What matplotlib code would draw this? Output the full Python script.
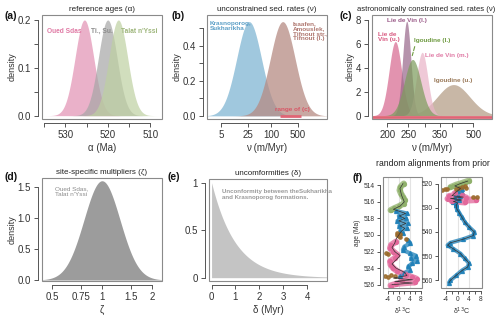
import numpy as np
import matplotlib
matplotlib.use("Agg")
import matplotlib.pyplot as plt
from matplotlib.patches import Rectangle
from matplotlib.ticker import NullLocator

plt.rcParams['font.family'] = ['Liberation Sans', 'DejaVu Sans']

# ---------------- data ----------------
# (a) reference ages: mean, sd, peak density
a_names = ["Oued Sdas", "Ti., Su.", "Talat n'Yssi"]
a_mean = [525.5, 520.0, 517.5]
a_sd = [2.2, 2.2, 2.2]
a_peak = [0.2, 0.2, 0.2]
a_colors = ['#E290B2', '#A6A6A6', '#BED0A1']
a_textcol = ['#E07AA5', '#8C8C8C', '#9DB57A']

# (b) unconstrained sed. rates (lognormal in ln-units)
b_names = ["Krasnoporog,\nSukharikha", "Isaafen,\nAmouslek,\nTifnout str.,\nTifnout (l.)"]
b_median = [27.0, 200.0]
b_sdln = [0.74, 0.74]
b_colors = ['#80B6D3', '#B68B83']
b_textcol = ['#5A9EC6', '#B07870']
c_range = [170, 610]

# (c) astronomically constrained rates: median, sd (decades), peak
c_names = ["Igoudine (u.)", "Lie de\nVin (u.)", "Lie de Vin (l.)", "Lie de Vin (m.)", "Igoudine (l.)"]
c_median = [405, 218, 246, 290, 262]
c_sd = [0.075, 0.029, 0.019, 0.026, 0.038]
c_peak = [2.6, 6.2, 7.9, 5.3, 4.7]
c_colors = ['#B39B84', '#D86A90', '#9A6A8C', '#E9B5C8', '#7E9D5E']

# (d) site-specific multiplier (lognormal, ln-units)
d_median = 1.0
d_sdln = 0.25

# (e) unconformity duration (exponential)
e_rate = 1.0

# (f) random alignments: (d13C, age)
gL_age = [513.8, 514.2, 514.6, 515.0, 515.4, 515.8, 516.2, 516.5, 516.8, 517.0]
gL_d = [1.8, 0.6, 0.3, 0.8, 1.5, 2.2, 1.8, 0.2, -1.8, -3.0]
bL1_age = [517.1, 517.4, 517.7, 518.0, 518.3, 518.6, 518.9, 519.2, 519.5, 519.8]
bL1_d = [-1.0, 3.0, 0.0, 2.6, -0.5, 3.2, 0.2, 3.0, 0.5, 1.5]
brL_age = [519.8, 519.9, 520.0, 520.1, 520.2, 520.5, 522.3, 522.2, 524.8, 524.9, 525.0, 525.1]
brL_d = [-0.5, 0.3, -0.8, 0.0, 0.6, 2.8, -3.8, -4.8, -3.0, -1.5, -5.2, -4.0]
pL_age = [520.8, 521.2, 521.6, 522.0, 522.4, 522.8, 523.2, 523.6, 524.0, 524.4, 524.8, 525.1, 525.3, 525.5, 525.7, 525.9, 526.1]
pL_d = [-1.0, -2.8, -3.2, -2.0, -0.5, -1.5, -3.2, -3.0, -2.0, -0.5, 2.5, 5.0, 6.5, 1.0, 6.0, -1.0, -3.0]
bL2_age = [520.6, 521.0, 521.4, 521.8, 522.2, 522.5, 522.8, 523.1, 523.4, 523.8, 524.2, 524.6, 525.0]
bL2_d = [3.2, 4.2, 2.0, 1.5, 4.0, 6.3, 4.5, 6.8, 5.0, 3.5, 4.0, 2.0, 0.5]
lnL_age = [513.8, 514.4, 515.2, 516.0, 516.5, 516.9, 517.4, 517.7, 518.0, 518.3, 518.6, 518.9, 519.2, 519.6, 520.0,
           520.5, 521.0, 521.5, 522.0, 522.5, 523.0, 523.5, 524.0, 524.5, 524.9, 525.2, 525.4, 525.6, 525.8, 526.0]
lnL_d = [1.5, 0.4, 1.0, 2.0, 0.5, -2.0, 2.5, 0.2, 2.2, 0.0, 2.6, 0.5, 2.2, 0.8, 0.0,
         -1.0, -1.5, -2.5, -1.5, 0.5, -1.0, -2.5, -1.0, 2.0, 3.0, -2.0, 5.0, -1.5, 5.0, -2.5]

gR_age = [518.8, 519.2, 519.6, 520.0, 520.5, 521.0, 521.5]
gR_d = [4.0, 3.0, 2.0, 1.0, -0.5, -1.5, -2.5]
brR_age = [521.2, 521.5, 521.8, 522.0, 522.3, 522.3, 522.5, 522.4, 525.4, 525.5]
brR_d = [2.5, 1.5, 0.5, 3.0, -0.5, -4.5, -5.5, -3.8, 5.5, 6.7]
bR1_age = [522.3, 523.0, 523.8, 524.5, 525.2, 526.0, 526.8, 527.5, 528.3, 529.0]
bR1_d = [1.5, 0.0, 1.5, -0.5, 1.0, -1.0, 0.5, -1.5, -0.5, -0.5]
pR_age = [524.0, 524.6, 525.2, 525.8, 526.3, 526.8, 527.3, 527.8]
pR_d = [-1.0, 1.5, -3.0, 3.0, -3.5, 6.5, -2.0, 2.5]
bR2_age = [529.0, 530.5, 532.0, 534.0, 536.0, 538.0, 540.0, 541.5, 543.0, 544.5, 545.5, 547.0,
           549.0, 551.0, 553.0, 554.5, 556.0, 558.0, 560.0, 561.0]
bR2_d = [-0.5, -0.3, 0.5, 1.5, 2.5, 4.0, 5.8, 5.5, 2.0, -2.5, -3.5, -1.5,
         1.0, 2.5, 4.0, 3.5, 1.5, -0.5, -2.5, -3.0]
lnR_age = [519.0, 520.0, 521.0, 522.0, 523.0, 524.0, 525.0, 525.6, 526.2, 526.8, 527.4, 528.0, 529.0]
lnR_d = [3.5, 1.0, -1.0, 1.0, 0.0, -1.0, -2.0, 2.0, -2.5, 1.5, -1.5, 0.0, -0.5]

# ---------------- helpers ----------------
W, H = 500, 318
fig = plt.figure(figsize=(W / 100, H / 100), dpi=100)


def axes_px(x0, y0, x1, y1):
    return fig.add_axes([x0 / W, 1 - y1 / H, (x1 - x0) / W, (y1 - y0) / H])


TICKC = '#555555'
LABC = '#333333'


def rstyle(ax, xt, xl, yt, yl, fs=7, off=3):
    ax.set_xticks(xt)
    ax.set_xticklabels(xl)
    ax.set_yticks(yt)
    ax.set_yticklabels(yl, rotation=90, va='center')
    ax.xaxis.set_minor_locator(NullLocator())
    ax.yaxis.set_minor_locator(NullLocator())
    for s in ['top', 'right']:
        ax.spines[s].set_visible(False)
    for s in ['left', 'bottom']:
        ax.spines[s].set_position(('outward', off))
        ax.spines[s].set_color(TICKC)
        ax.spines[s].set_linewidth(0.7)
    ax.spines['left'].set_bounds(yt[0], yt[-1])
    ax.spines['bottom'].set_bounds(xt[0], xt[-1])
    ax.add_patch(Rectangle((0, 0), 1, 1, transform=ax.transAxes, fill=False,
                           ec='#8a8a8a', lw=0.8, clip_on=False, zorder=5))
    ax.tick_params(direction='out', length=3, width=0.7, color=TICKC,
                   labelsize=fs, labelcolor=LABC, pad=2)


def gauss(x, m, s):
    return np.exp(-0.5 * ((x - m) / s) ** 2)


def norm(x, m, s):
    return gauss(x, m, s) / (s * np.sqrt(2 * np.pi))


TFS = 5.8
LFS = 7
YLP = 0.5

# ---------------- (a) ----------------
ax = axes_px(42, 15, 162, 119)
x = np.linspace(507, 536, 400)
for m, s, pk, c in zip(a_mean, a_sd, a_peak, a_colors):
    ax.fill_between(x, 0, pk * gauss(x, m, s), color=c, alpha=0.7, lw=0)
ax.set_xlim(535.5, 507.2)
ax.set_ylim(-0.007, 0.2104)
rstyle(ax, [535, 530, 525, 520, 515, 510], ['', '530', '', '520', '', '510'],
       [0, 0.05, 0.1, 0.15, 0.2], ['0.0', '', '0.1', '', '0.2'])
ax.set_title('reference ages (α)', fontsize=TFS, pad=3, color='#222')
ax.set_xlabel('α (Ma)', fontsize=LFS, color=LABC, labelpad=2)
ax.set_ylabel('density', fontsize=6.5, color=LABC, labelpad=YLP)
for xx, nm, tc in zip([530.3, 521.3, 512.6], a_names, a_textcol):
    ax.text(xx, 0.176, nm, color=tc, fontsize=4.8, fontweight='bold', ha='center', va='center')

# ---------------- (b) ----------------
ax = axes_px(207, 15, 327, 119)
x = np.logspace(np.log10(2), np.log10(3000), 500)
for med, s, c in zip(b_median, b_sdln, b_colors):
    ax.fill_between(x, 0, norm(np.log(x), np.log(med), s), color=c, alpha=0.75, lw=0)
ax.plot(c_range, [0, 0], color='#E06575', lw=2, solid_capstyle='butt', zorder=4)
ax.text(125, 0.035, 'range of (c)', color='#D85565', fontsize=4.6, fontweight='bold',
        ha='left', va='center', zorder=6)
ax.set_xscale('log')
ax.set_xlim(2.2, 2800)
ax.set_ylim(-0.018, 0.577)
rstyle(ax, [5, 25, 100, 500], ['5', '25', '100', '500'],
       [0, 0.1, 0.2, 0.3, 0.4, 0.5], ['0.0', '', '0.2', '', '0.4', ''])
ax.set_title('unconstrained sed. rates (ν)', fontsize=TFS, pad=3, color='#222')
ax.set_xlabel('ν (m/Myr)', fontsize=LFS, color=LABC, labelpad=2)
ax.set_ylabel('density', fontsize=6.5, color=LABC, labelpad=YLP)
ax.text(2.6, 0.54, b_names[0], color=b_textcol[0], fontsize=4.6, fontweight='bold', ha='left', va='top', linespacing=1.0)
ax.text(360, 0.54, b_names[1], color=b_textcol[1], fontsize=4.6, fontweight='bold', ha='left', va='top', linespacing=1.0)

# ---------------- (c) ----------------
ax = axes_px(372, 15, 492, 119)
x = np.logspace(np.log10(160), np.log10(650), 500)
for med, s, pk, c in zip(c_median, c_sd, c_peak, c_colors):
    y = pk * gauss(np.log10(x), np.log10(med), s)
    ax.fill_between(x, 0, y, color=c, alpha=0.72, lw=0)
ax.plot(c_range, [-0.08, -0.08], color='#E06575', lw=2, solid_capstyle='butt', zorder=3)
ax.set_xscale('log')
ax.set_xlim(170, 610)
ax.set_ylim(-0.28, 8.42)
rstyle(ax, [200, 250, 300, 350, 400, 500], ['200', '250', '', '350', '', '500'],
       [0, 2, 4, 6, 8], ['0', '2', '4', '6', '8'])
ax.set_title('astronomically constrained sed. rates (ν)', fontsize=5.5, pad=3, color='#222', x=0.45)
ax.set_xlabel('ν (m/Myr)', fontsize=LFS, color=LABC, labelpad=2)
ax.set_ylabel('density', fontsize=6.5, color=LABC, labelpad=YLP)
tk = dict(fontsize=4.6, fontweight='bold', va='center', linespacing=1.0)
ax.text(246, 7.95, c_names[2], color='#9A5A88', ha='center', **tk)
ax.text(181, 6.6, c_names[1], color='#D8577F', ha='left', **tk)
ax.text(266, 6.3, c_names[4], color='#6E9A40', ha='left', **tk)
ax.annotate('', xy=(259, 4.8), xytext=(270, 6.0),
            arrowprops=dict(arrowstyle='-', ls='--', color='#6E9A40', lw=0.8))
ax.text(300, 5.0, c_names[3], color='#E07AA5', ha='left', **tk)
ax.text(330, 2.95, c_names[0], color='#9A7A5A', ha='left', **tk)

# ---------------- (d) ----------------
ax = axes_px(42, 178, 162, 281)
x = np.logspace(np.log10(0.4), np.log10(2.5), 500)
ax.fill_between(x, 0, norm(np.log(x), np.log(d_median), d_sdln), color='#9C9C9C', lw=0)
ax.set_xscale('log')
ax.set_xlim(0.435, 2.3)
ax.set_ylim(-0.016, 1.64)
rstyle(ax, [0.5, 0.75, 1, 1.5, 2], ['0.5', '0.75', '1', '1.5', '2'],
       [0, 0.5, 1.0, 1.5], ['0.0', '0.5', '1.0', '1.5'])
ax.set_title('site-specific multipliers (ζ)', fontsize=TFS, pad=3, color='#222')
ax.set_xlabel('ζ', fontsize=LFS, color=LABC, labelpad=2)
ax.set_ylabel('density', fontsize=6.5, color=LABC, labelpad=YLP)
ax.text(0.52, 1.5, "Oued Sdas,\nTalat n'Yssi", color='#8C8C8C', fontsize=4.6, ha='left', va='top', linespacing=1.0)

# ---------------- (e) ----------------
ax = axes_px(209, 179, 327, 281)
x = np.linspace(0, 4.9, 300)
ax.fill_between(x, 0, e_rate * np.exp(-e_rate * x), color='#C4C4C4', lw=0)
ax.set_xlim(-0.107, 4.83)
ax.set_ylim(-0.035, 1.039)
rstyle(ax, [0, 1, 2, 3, 4], ['0', '1', '2', '3', '4'],
       [0, 0.5, 1], ['0', '0.5', '1'])
ax.set_title('uncomformities (δ)', fontsize=TFS, pad=3, color='#222')
ax.set_xlabel('δ (Myr)', fontsize=LFS, color=LABC, labelpad=2)
ax.text(0.44, 0.93, 'Unconformity between theSukharikha\nand Krasnoporog formations.',
        color='#9A9A9A', fontsize=4.4, fontweight='bold', ha='left', va='top', linespacing=1.1)

# ---------------- (f) ----------------
GC, BC, PC, BRC = '#8FB06A', '#1F80B8', '#E2679A', '#9A6A2A'


def band(ax, d, a, c, mk, lw=4.0):
    ax.plot(d, a, color=c, lw=lw, alpha=0.75, solid_capstyle='round', zorder=2)
    ax.plot(d, a, ls='none', marker=mk, ms=2.8, color=c, alpha=0.9, zorder=3)


def fstyle(ax, yt, yl):
    for v in (-4, 0, 4):
        ax.axvline(v, color='#E3E3E3', lw=0.8, zorder=0)
    ax.set_xlim(-5.8, 8.5)
    rstyle(ax, [-4, -2, 0, 2, 4, 6, 8], ['-4', '', '0', '', '4', '', '8'], yt, yl, fs=4.8, off=2.5)
    ax.tick_params(length=2, pad=1.5)
    ax.set_xlabel('δ$^{13}$C', fontsize=5, color=LABC, labelpad=1.5)


axL = axes_px(383, 177, 422, 288)
band(axL, gL_d, gL_age, GC, 'o', 4.5)
band(axL, bL1_d, bL1_age, BC, '^', 3.0)
band(axL, bL2_d, bL2_age, BC, '^', 3.0)
band(axL, pL_d, pL_age, PC, 'o', 4.5)
axL.plot(brL_d, brL_age, ls='none', marker='o', ms=2.4, color=BRC, alpha=0.85, zorder=4)
axL.plot(lnL_d, lnL_age, color='#333333', lw=0.5, zorder=5)
axL.set_ylim(526.4, 513.0)
fstyle(axL, [514, 516, 518, 520, 522, 524, 526], ['514', '516', '518', '520', '522', '524', '526'])
axL.set_ylabel('age (Ma)', fontsize=4.8, color=LABC, labelpad=1.5)

axR = axes_px(441, 177, 482, 288)
band(axR, gR_d, gR_age, GC, 'o', 4.5)
band(axR, bR1_d, bR1_age, BC, '^', 3.0)
band(axR, pR_d, pR_age, PC, 'o', 4.5)
band(axR, bR2_d, bR2_age, BC, '^', 3.0)
axR.plot(brR_d, brR_age, ls='none', marker='o', ms=2.4, color=BRC, alpha=0.85, zorder=4)
axR.plot(lnR_d, lnR_age, color='#333333', lw=0.5, zorder=5)
axR.plot(bR2_d, bR2_age, color='#333333', lw=0.5, zorder=5)
axR.set_ylim(563.2, 517.3)
fstyle(axR, [520, 530, 540, 550, 560], ['520', '530', '540', '550', '560'])

fig.text(433 / W, 1 - 163 / H, 'random alignments from prior', fontsize=TFS + 0.4, ha='center', va='center', color='#222')

# panel labels
for lab, xx, yy in [('(a)', 11, 16), ('(b)', 178, 16), ('(c)', 346, 16),
                    ('(d)', 11, 177), ('(e)', 174, 177), ('(f)', 358, 178)]:
    fig.text(xx / W, 1 - yy / H, lab, fontsize=7.5, fontweight='bold', ha='center', va='center', color='#111')

fig.savefig('out.png', dpi=100)
